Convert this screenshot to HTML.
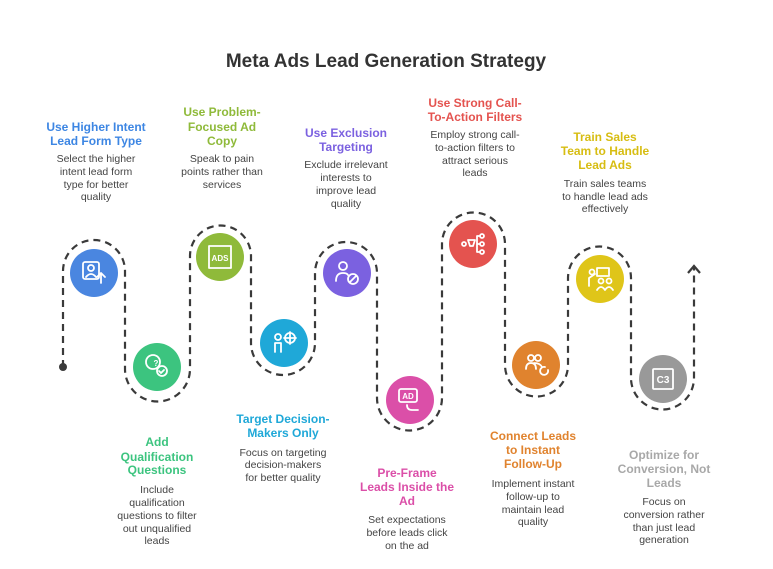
<!DOCTYPE html>
<html><head><meta charset="utf-8"><style>
html,body{margin:0;padding:0;background:#fff;}
svg{display:block;font-family:"Liberation Sans",sans-serif;}
.t{font-weight:bold;font-size:12px;text-anchor:middle;}
.d{font-size:10.5px;fill:#444;text-anchor:middle;}
.ic{fill:none;stroke:#fff;stroke-width:1.8;stroke-linecap:round;stroke-linejoin:round;}
</style></head><body>
<svg width="773" height="569" viewBox="0 0 773 569">
<text x="386" y="67" text-anchor="middle" font-size="19" font-weight="bold" fill="#333">Meta Ads Lead Generation Strategy</text>
<path d="M63 367 V271 A31 31 0 0 1 125 271 V369 A32.5 32.5 0 0 0 190 369 V256 A30.5 30.5 0 0 1 251 256 V343 A32 32 0 0 0 315 343 V273 A31 31 0 0 1 377 273 V398 A32.5 32.5 0 0 0 442 398 V244 A31.5 31.5 0 0 1 505 244 V365 A31.5 31.5 0 0 0 568 365 V278 A31.5 31.5 0 0 1 631 278 V378 A31.5 31.5 0 0 0 694 378 V267" fill="none" stroke="#3a3a3a" stroke-width="2.2" stroke-dasharray="7 5"/>
<circle cx="63" cy="367" r="4" fill="#3a3a3a"/>
<path d="M688 273 L694 266 L700 273" fill="none" stroke="#3a3a3a" stroke-width="2.2"/>
<circle cx="94" cy="273" r="24" fill="#4a86e0"/>
<circle cx="157" cy="367" r="24" fill="#3cc47f"/>
<circle cx="220" cy="257" r="24" fill="#8fba3a"/>
<circle cx="284" cy="343" r="24" fill="#1fa8d8"/>
<circle cx="347" cy="273" r="24" fill="#7b61e0"/>
<circle cx="410" cy="400" r="24" fill="#db4fa8"/>
<circle cx="473" cy="244" r="24" fill="#e4534f"/>
<circle cx="536" cy="365" r="24" fill="#e0832e"/>
<circle cx="600" cy="279" r="24" fill="#dfc519"/>
<circle cx="663" cy="379" r="24" fill="#999"/>
<!-- icons -->
<g class="ic"><rect x="83" y="262" width="16" height="17" rx="2"/><circle cx="91" cy="268" r="3"/><path d="M86 277 q5-6 10 0"/><path d="M101 283 V273 M97 277 L101 273 L105 277"/></g>
<g class="ic"><circle cx="153" cy="362" r="7"/><circle cx="162" cy="371" r="5"/><path d="M159 371 l2 2 l3-3"/></g>
<text x="156" y="366" font-size="8" font-weight="bold" fill="#fff" text-anchor="middle">?</text>
<g class="ic"><rect x="209" y="246" width="22" height="22"/></g>
<text x="220" y="261" font-size="8" font-weight="bold" fill="#fff" text-anchor="middle">ADS</text>
<g class="ic"><circle cx="278" cy="337" r="3"/><path d="M275 352 V343 H281 V352"/><circle cx="290" cy="338" r="5"/><path d="M290 332 V344 M284 338 H296"/></g>
<g class="ic"><circle cx="343" cy="266" r="4"/><path d="M336 281 q0-8 7-8 q4 0 5 2"/><circle cx="353" cy="279" r="5"/><path d="M350 282 L356 276"/></g>
<g class="ic"><rect x="399" y="389" width="18" height="13" rx="2"/><path d="M407 405 q0 5 5 5 h6"/></g>
<text x="408" y="399" font-size="8" font-weight="bold" fill="#fff" text-anchor="middle">AD</text>
<g class="ic"><circle cx="464" cy="244" r="2"/><path d="M468 240 h7 l-2 6 h-3 z"/><circle cx="482" cy="236" r="2"/><circle cx="482" cy="244" r="2"/><circle cx="482" cy="252" r="2"/><path d="M477 236 h3 M477 244 h3 M477 252 h3 M477 236 v16"/></g>
<g class="ic"><circle cx="531" cy="358" r="3"/><circle cx="538" cy="358" r="3"/><path d="M526 369 q0-6 5-6 q5 0 5 6 M534 363 q6 0 8 4"/><path d="M548 370 a4 4 0 1 1 -3 -3"/></g>
<g class="ic"><circle cx="592" cy="272" r="2.5"/><path d="M589 286 v-8 l6-4"/><rect x="597" y="268" width="12" height="8"/><circle cx="601" cy="281" r="2.5"/><circle cx="609" cy="281" r="2.5"/><path d="M597 290 q4-6 8 0 q4-6 8 0"/></g>
<g class="ic"><rect x="653" y="369" width="20" height="20" rx="1"/></g>
<text x="663" y="383" font-size="10" font-weight="bold" fill="#fff" text-anchor="middle">C3</text>
<!-- top labels -->
<g fill="#3d86e3" class="t"><text x="96" y="131">Use Higher Intent</text><text x="96" y="145">Lead Form Type</text></g>
<g class="d"><text x="96" y="162">Select the higher</text><text x="96" y="175">intent lead form</text><text x="96" y="188">type for better</text><text x="96" y="200">quality</text></g>
<g fill="#8fba3a" class="t"><text x="222" y="116">Use Problem-</text><text x="222" y="131">Focused Ad</text><text x="222" y="145">Copy</text></g>
<g class="d"><text x="222" y="162">Speak to pain</text><text x="222" y="175">points rather than</text><text x="222" y="188">services</text></g>
<g fill="#7b61e0" class="t"><text x="346" y="137">Use Exclusion</text><text x="346" y="151">Targeting</text></g>
<g class="d"><text x="346" y="168">Exclude irrelevant</text><text x="346" y="181">interests to</text><text x="346" y="194">improve lead</text><text x="346" y="207">quality</text></g>
<g fill="#e4534f" class="t"><text x="475" y="107">Use Strong Call-</text><text x="475" y="121">To-Action Filters</text></g>
<g class="d"><text x="475" y="138">Employ strong call-</text><text x="475" y="151">to-action filters to</text><text x="475" y="164">attract serious</text><text x="475" y="176">leads</text></g>
<g fill="#d7bd12" class="t"><text x="605" y="141">Train Sales</text><text x="605" y="155">Team to Handle</text><text x="605" y="169">Lead Ads</text></g>
<g class="d"><text x="605" y="187">Train sales teams</text><text x="605" y="200">to handle lead ads</text><text x="605" y="212">effectively</text></g>
<!-- bottom labels -->
<g fill="#3cc47f" class="t"><text x="157" y="446">Add</text><text x="157" y="461">Qualification</text><text x="157" y="474">Questions</text></g>
<g class="d"><text x="157" y="493">Include</text><text x="157" y="506">qualification</text><text x="157" y="519">questions to filter</text><text x="157" y="532">out unqualified</text><text x="157" y="544">leads</text></g>
<g fill="#1fa8d8" class="t"><text x="283" y="423">Target Decision-</text><text x="283" y="437">Makers Only</text></g>
<g class="d"><text x="283" y="456">Focus on targeting</text><text x="283" y="468">decision-makers</text><text x="283" y="481">for better quality</text></g>
<g fill="#db4fa8" class="t"><text x="407" y="477">Pre-Frame</text><text x="407" y="491">Leads Inside the</text><text x="407" y="505">Ad</text></g>
<g class="d"><text x="407" y="523">Set expectations</text><text x="407" y="536">before leads click</text><text x="407" y="549">on the ad</text></g>
<g fill="#e0832e" class="t"><text x="533" y="440">Connect Leads</text><text x="533" y="454">to Instant</text><text x="533" y="468">Follow-Up</text></g>
<g class="d"><text x="533" y="487">Implement instant</text><text x="533" y="500">follow-up to</text><text x="533" y="513">maintain lead</text><text x="533" y="525">quality</text></g>
<g fill="#a8a8a8" class="t"><text x="664" y="459">Optimize for</text><text x="664" y="473">Conversion, Not</text><text x="664" y="487">Leads</text></g>
<g class="d"><text x="664" y="505">Focus on</text><text x="664" y="518">conversion rather</text><text x="664" y="531">than just lead</text><text x="664" y="543">generation</text></g>
</svg>
</body></html>
